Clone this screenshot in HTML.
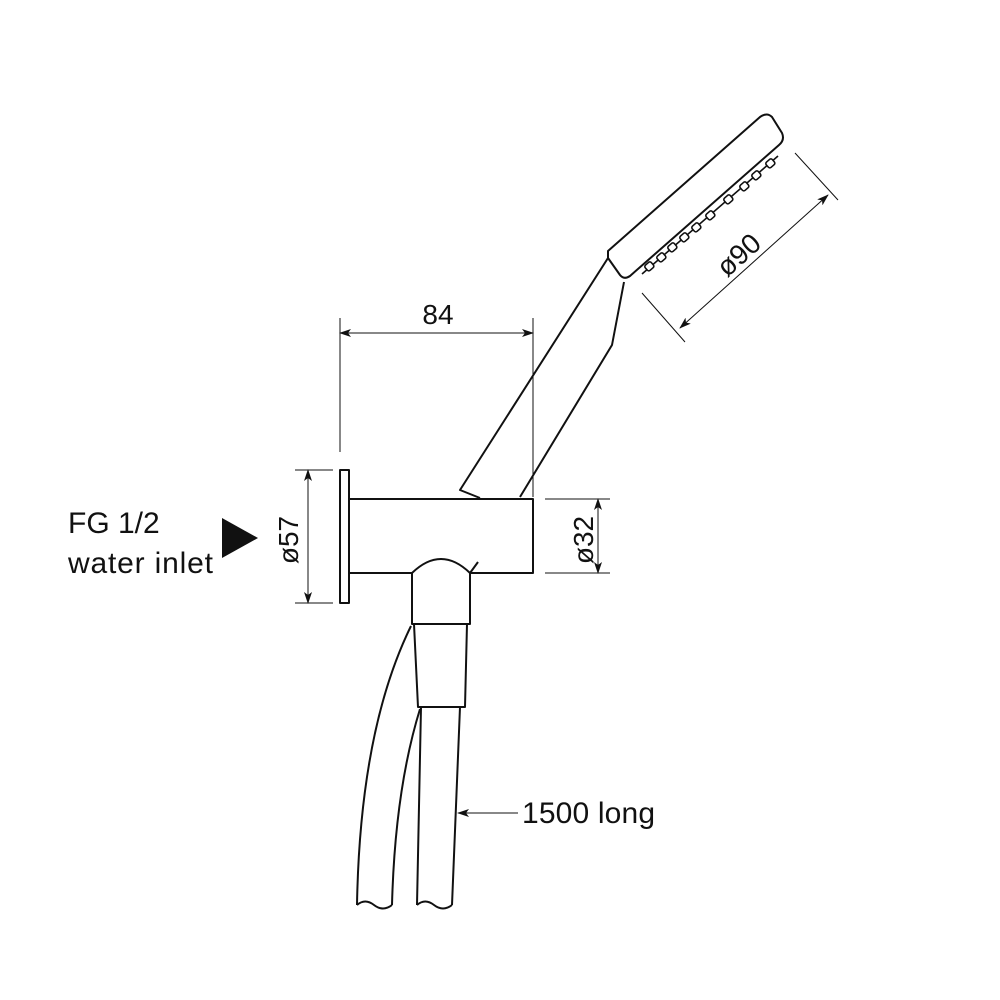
<!DOCTYPE html>
<html><head><style>body{margin:0;background:#fff}svg{display:block}text{font-family:"Liberation Sans",sans-serif;fill:#111}</style></head>
<body>
<svg width="1000" height="1000" viewBox="0 0 1000 1000" xmlns="http://www.w3.org/2000/svg">
<defs><marker id="a" markerWidth="12" markerHeight="8" refX="11" refY="4" orient="auto-start-reverse" markerUnits="userSpaceOnUse"><path d="M0,0 L12,4 L0,8 L3,4 Z" fill="#111"/></marker></defs>
<g fill="none" stroke="#111" stroke-width="2" stroke-linejoin="round">
<!-- handle -->
<path d="M608,251 L760,117 Q767,112 772,117 L782,133 Q785,140 779,145 L630,276 Q624,280 620,275 L608,258 Z" fill="#fff"/>
<path d="M608,258 L460,490 L480,498"/>
<path d="M624,282 L612,345 L520,497"/>
<g stroke-width="1.6" fill="#fff">
<path d="M642,274 L778,156" fill="none"/>
<rect x="645" y="263" width="8" height="7" rx="2" transform="rotate(-41 649 266)"/>
<rect x="657" y="254" width="8" height="7" rx="2" transform="rotate(-41 661 257)"/>
<rect x="668" y="244" width="8" height="7" rx="2" transform="rotate(-41 672 247)"/>
<rect x="680" y="234" width="8" height="7" rx="2" transform="rotate(-41 684 237)"/>
<rect x="692" y="224" width="8" height="7" rx="2" transform="rotate(-41 696 227)"/>
<rect x="706" y="212" width="8" height="7" rx="2" transform="rotate(-41 710 215)"/>
<rect x="724" y="196" width="8" height="7" rx="2" transform="rotate(-41 728 199)"/>
<rect x="740" y="183" width="8" height="7" rx="2" transform="rotate(-41 744 186)"/>
<rect x="752" y="172" width="8" height="7" rx="2" transform="rotate(-41 756 175)"/>
<rect x="766" y="160" width="8" height="7" rx="2" transform="rotate(-41 770 163)"/>
</g>
<!-- wall plate and body -->
<rect x="340" y="470" width="9" height="133" fill="#fff"/>
<rect x="349" y="499" width="184" height="74" fill="#fff"/>
<path d="M470,573 L478,562" />
<path d="M412,573 Q441,545 470,573 L470,624 L412,624 Z" fill="#fff"/>
<path d="M414,624 L418,707 L465,707 L467,624"/>
<path d="M421,707 L417,905 M460,707 L452,905"/>
<path d="M411,626 Q360,730 357,905 M420,709 Q395,790 392,905"/>
<path d="M357,905 Q365,898 374,905 Q383,912 392,905 M417,905 Q425,898 434,905 Q443,912 452,905"/>
</g>
<g fill="none" stroke="#111" stroke-width="1">
<path d="M340,318 V452 M533,318 V497"/>
<line x1="340" y1="333" x2="533" y2="333" marker-end="url(#a)" marker-start="url(#a)"/>
<path d="M642,293 L685,342 M795,153 L838,200"/>
<line x1="680" y1="328" x2="828" y2="195" marker-end="url(#a)" marker-start="url(#a)"/>
<path d="M295,470 H333 M295,603 H333"/>
<line x1="308" y1="470" x2="308" y2="603" marker-end="url(#a)" marker-start="url(#a)"/>
<path d="M545,499 H610 M545,573 H610"/>
<line x1="598" y1="499" x2="598" y2="573" marker-end="url(#a)" marker-start="url(#a)"/>
<line x1="518" y1="813" x2="458" y2="813" marker-end="url(#a)"/>
</g>
<path d="M222,518 L258,538 L222,558 Z" fill="#111"/>
<text x="438" y="324" font-size="28" text-anchor="middle">84</text>
<text transform="translate(745,262) rotate(-42)" font-size="28" text-anchor="middle">ø90</text>
<text transform="translate(298,540) rotate(-90)" font-size="28" text-anchor="middle">ø57</text>
<text transform="translate(593,540) rotate(-90)" font-size="28" text-anchor="middle">ø32</text>
<text x="68" y="533" font-size="30">FG 1/2</text>
<text x="68" y="573" font-size="30" textLength="145">water inlet</text>
<text x="522" y="823" font-size="30" textLength="133">1500 long</text>
</svg>
</body></html>
